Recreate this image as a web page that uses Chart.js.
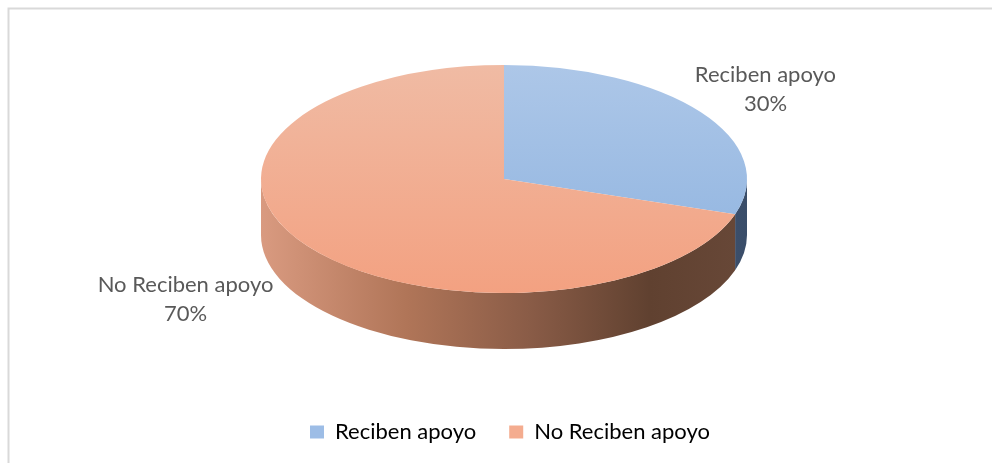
<!DOCTYPE html>
<html>
<head>
<meta charset="utf-8">
<script src="https://cdn.jsdelivr.net/npm/chart.js@4.4.1/dist/chart.umd.min.js"></script>
<style>
  html, body { margin: 0; padding: 0; background: #fff; }
  canvas { display: block; }
</style>
</head>
<body>
<canvas id="chart" width="992" height="463"></canvas>
<script>
const categories = ['Reciben apoyo', 'No Reciben apoyo'];
const values = [30, 70];
const legendColors = ['#9dbde6', '#f4ac8f'];

// look of the tilted pie
const PIE_CX = 504, PIE_CY = 179, PIE_RX = 243, PIE_RY = 114, DEPTH = 56;
const topShades = [['#adc7e8', '#8db2df'], ['#f0bba4', '#f3a181']];
const sideShades = [
  [[0, '#5d7699'], [1, '#3a4d69']],
  [[0, '#d99a80'], [0.3, '#b07558'], [0.55, '#8a5c47'], [0.8, '#604130'], [1, '#684838']]
];
const FONT = 'Lato, "Noto Sans", sans-serif';
const TEXT = '#595959';

function pieBox(chart) {
  const arc = chart.getDatasetMeta(0).data[0];
  return { x: arc.x, y: arc.y, r: arc.outerRadius };
}

// squash the round pie into the ellipse of the reference
function tilt(chart, ctx) {
  const b = pieBox(chart);
  ctx.translate(PIE_CX, PIE_CY);
  ctx.scale(PIE_RX / b.r, PIE_RY / b.r);
  ctx.translate(-b.x, -b.y);
}

const tiltPlugin = {
  id: 'tilt',
  beforeDraw(chart) {
    const ctx = chart.ctx;
    ctx.save();
    ctx.strokeStyle = '#d9d9d9';
    ctx.lineWidth = 2;
    ctx.beginPath();
    ctx.moveTo(8.5, 463);
    ctx.lineTo(8.5, 8.5);
    ctx.lineTo(992, 8.5);
    ctx.stroke();
    ctx.restore();
  },
  beforeDatasetsDraw(chart) {
    const ctx = chart.ctx;
    const b = pieBox(chart);
    ctx.save();
    tilt(chart, ctx);
    const d = DEPTH * b.r / PIE_RY;
    chart.getDatasetMeta(0).data.forEach((arc, i) => {
      const a0 = Math.max(arc.startAngle, 0);
      const a1 = Math.min(arc.endAngle, Math.PI);
      if (a1 <= a0) return;
      const g = ctx.createLinearGradient(b.x - b.r, 0, b.x + b.r, 0);
      sideShades[i].forEach(s => g.addColorStop(s[0], s[1]));
      ctx.beginPath();
      ctx.arc(b.x, b.y, b.r, a0, a1);
      ctx.arc(b.x, b.y + d, b.r, a1, a0, true);
      ctx.closePath();
      ctx.fillStyle = g;
      ctx.fill();
    });
  },
  afterDatasetsDraw(chart) {
    const ctx = chart.ctx;
    ctx.restore();
    const push = [1.33, 1.62], drop = [0, 12];
    const total = values.reduce((s, v) => s + v, 0);
    ctx.save();
    ctx.font = '22px ' + FONT;
    ctx.fillStyle = TEXT;
    ctx.textAlign = 'center';
    ctx.textBaseline = 'middle';
    chart.getDatasetMeta(0).data.forEach((arc, i) => {
      const mid = (arc.startAngle + arc.endAngle) / 2;
      const x = PIE_CX + PIE_RX * push[i] * Math.cos(mid);
      const y = PIE_CY + PIE_RY * push[i] * Math.sin(mid) + drop[i];
      ctx.fillText(categories[i], x, y - 14.5);
      ctx.fillText(Math.round(values[i] / total * 100) + '%', x, y + 14.5);
    });
    ctx.restore();
  }
};

new Chart(document.getElementById('chart'), {
  type: 'pie',
  data: {
    labels: categories,
    datasets: [{
      data: values,
      borderWidth: 0,
      backgroundColor: (c) => {
        const area = c.chart.chartArea;
        const i = c.dataIndex || 0;
        if (!area) return legendColors[i];
        const cy = (area.top + area.bottom) / 2;
        const r = Math.min(area.width, area.height) / 2;
        const g = c.chart.ctx.createLinearGradient(0, cy - r, 0, cy + r);
        g.addColorStop(0, topShades[i][0]);
        g.addColorStop(1, topShades[i][1]);
        return g;
      }
    }]
  },
  options: {
    responsive: false,
    animation: false,
    events: [],
    layout: { padding: { left: 28, right: 0, top: 0, bottom: 10 } },
    plugins: {
      tooltip: { enabled: false },
      legend: {
        position: 'bottom',
        labels: {
          font: { family: FONT, size: 22 },
          color: TEXT,
          boxWidth: 14,
          boxHeight: 13,
          padding: 33,
          generateLabels: () => categories.map((t, i) => ({
            text: t,
            fillStyle: legendColors[i],
            strokeStyle: legendColors[i],
            lineWidth: 0,
            hidden: false,
            index: i
          }))
        }
      }
    }
  },
  plugins: [tiltPlugin]
});
</script>
</body>
</html>
